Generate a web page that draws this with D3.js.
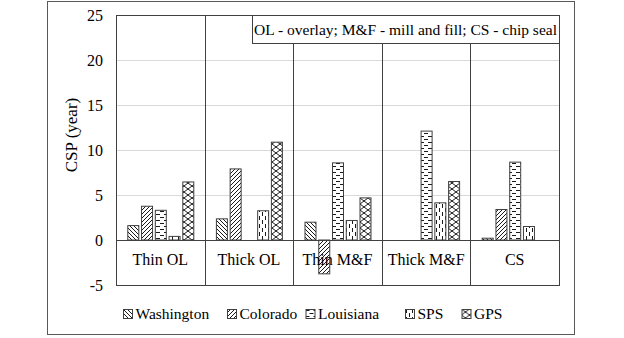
<!DOCTYPE html>
<html>
<head>
<meta charset="utf-8">
<script src="https://cdn.jsdelivr.net/npm/d3@7"></script>
<style>
  html, body { margin: 0; padding: 0; background: #fff; }
  svg { display: block; }
  svg text { font-family: "Liberation Serif", Tinos, "Times New Roman", "DejaVu Serif", serif; }
</style>
</head>
<body>
<div id="chart"></div>
<script>
// data
const categories = ["Thin OL", "Thick OL", "Thin M&F", "Thick M&F", "CS"];
const series = ["Washington", "Colorado", "Louisiana", "SPS", "GPS"];
const washington = [1.6, 2.35, 1.98, null, 0.2];
const colorado   = [3.75, 7.9, -3.76, null, 3.39];
const louisiana  = [3.3, null, 8.57, 12.1, 8.65];
const sps        = [0.4, 3.25, 2.17, 4.13, 1.5];
const gps        = [6.45, 10.87, 4.68, 6.5, null];
const yTicks = [-5, 0, 5, 10, 15, 20, 25];
const note = "OL - overlay; M&F - mill and fill; CS - chip seal";

const values = [washington, colorado, louisiana, sps, gps];

const W = 624, H = 338;
const plot = { left: 116, right: 559, top: 15, bottom: 285 };
const ink = "#404040";
const serif = "'Liberation Serif', Tinos, 'Times New Roman', 'DejaVu Serif', serif";

const svg = d3.select("#chart").append("svg")
    .attr("width", W).attr("height", H)
    .attr("viewBox", `0 0 ${W} ${H}`)
    .attr("font-family", serif);

// outer chart border
svg.append("rect")
    .attr("x", 47.5).attr("y", 1.5).attr("width", 527).attr("height", 333)
    .attr("fill", "#fff").attr("stroke", "#595959").attr("stroke-width", 1);

// fill patterns, one per series
const defs = svg.append("defs");
function pattern(id, w, h, d) {
    const p = defs.append("pattern").attr("id", id)
        .attr("patternUnits", "userSpaceOnUse").attr("width", w).attr("height", h);
    p.append("rect").attr("width", w).attr("height", h).attr("fill", "#fff");
    p.append("path").attr("d", d).attr("stroke", "#000")
        .attr("stroke-width", 0.9).attr("fill", "none");
}
pattern("p-wa", 4, 4, "M-1,-1 L5,5 M-1,3 L1,5 M3,-1 L5,1");
pattern("p-co", 4, 4, "M-1,5 L5,-1 M-1,1 L1,-1 M3,5 L5,3");
pattern("p-la", 8, 6, "M0,1.5 h4 M4,4.5 h4");
pattern("p-sps", 6, 8, "M1.5,0 v4 M4.5,4 v4");
pattern("p-gps", 8, 6, "M0,0 L8,6 M8,0 L0,6");
const fills = ["url(#p-wa)", "url(#p-co)", "url(#p-la)", "url(#p-sps)", "url(#p-gps)"];

const y = d3.scaleLinear().domain([-5, 25]).range([plot.bottom, plot.top]);
const x0 = d3.scaleBand().domain(categories).range([plot.left, plot.right]);
const cw = x0.bandwidth();
const x1 = d3.scaleBand().domain(series)
    .range([cw * 0.1275, cw * 0.8725]).paddingInner(0.2);

// gridlines
svg.append("g").selectAll("line")
    .data(yTicks.filter(t => t > 0 && t < 25))
    .join("line")
    .attr("x1", plot.left).attr("x2", plot.right)
    .attr("y1", d => y(d) + 0.5).attr("y2", d => y(d) + 0.5)
    .attr("stroke", "#d9d9d9").attr("stroke-width", 1);

// y tick labels
svg.append("g").selectAll("text")
    .data(yTicks)
    .join("text")
    .attr("x", 103).attr("y", d => y(d) + 5.5)
    .attr("text-anchor", "end")
    .attr("font-size", 16)
    .text(d => d);

// y axis title
svg.append("text")
    .attr("transform", `translate(77, ${(plot.top + plot.bottom) / 2 - 15}) rotate(-90)`)
    .attr("text-anchor", "middle")
    .attr("font-size", 17)
    .text("CSP (year)");

// bars
const rows = [];
categories.forEach((c, ci) => series.forEach((s, si) => {
    const v = values[si][ci];
    if (v != null) rows.push({ c, s, v, fill: fills[si] });
}));
svg.append("g").selectAll("rect")
    .data(rows)
    .join("rect")
    .attr("x", d => x0(d.c) + x1(d.s) + 0.5)
    .attr("y", d => y(Math.max(0, d.v)))
    .attr("width", x1.bandwidth())
    .attr("height", d => Math.abs(y(d.v) - y(0)))
    .attr("fill", d => d.fill)
    .attr("stroke", ink).attr("stroke-width", 1);

// zero line
svg.append("line")
    .attr("x1", plot.left).attr("x2", plot.right)
    .attr("y1", y(0) + 0.5).attr("y2", y(0) + 0.5)
    .attr("stroke", ink).attr("stroke-width", 1);

// category separators
svg.append("g").selectAll("line")
    .data(categories.slice(1))
    .join("line")
    .attr("x1", d => Math.round(x0(d)) + 0.5).attr("x2", d => Math.round(x0(d)) + 0.5)
    .attr("y1", plot.top).attr("y2", plot.bottom)
    .attr("stroke", ink).attr("stroke-width", 1);

// category labels
svg.append("g").selectAll("text")
    .data(categories)
    .join("text")
    .attr("x", d => x0(d) + cw / 2).attr("y", 265)
    .attr("text-anchor", "middle")
    .attr("font-size", 16)
    .text(d => d);

// plot border
svg.append("rect")
    .attr("x", plot.left + 0.5).attr("y", plot.top + 0.5)
    .attr("width", plot.right - plot.left).attr("height", plot.bottom - plot.top)
    .attr("fill", "none").attr("stroke", ink).attr("stroke-width", 1);

// note box
svg.append("rect")
    .attr("x", 252.5).attr("y", plot.top + 0.5)
    .attr("width", plot.right - 252).attr("height", 28)
    .attr("fill", "#fff").attr("stroke", ink).attr("stroke-width", 1);
svg.append("text")
    .attr("x", (252 + plot.right) / 2).attr("y", 35)
    .attr("text-anchor", "middle")
    .attr("font-size", 15.5)
    .text(note);

// legend
const legX = [123, 227, 305.5, 405, 461.5];
const leg = svg.append("g").selectAll("g")
    .data(series)
    .join("g")
    .attr("transform", (d, i) => `translate(${legX[i]}, 309)`);
leg.append("rect")
    .attr("x", 0.5).attr("y", 0.5).attr("width", 9).attr("height", 9)
    .attr("fill", (d, i) => fills[i])
    .attr("stroke", ink).attr("stroke-width", 1);
leg.append("text")
    .attr("x", 12.5).attr("y", 10)
    .attr("font-size", 15.5)
    .text(d => d);
</script>
</body>
</html>
